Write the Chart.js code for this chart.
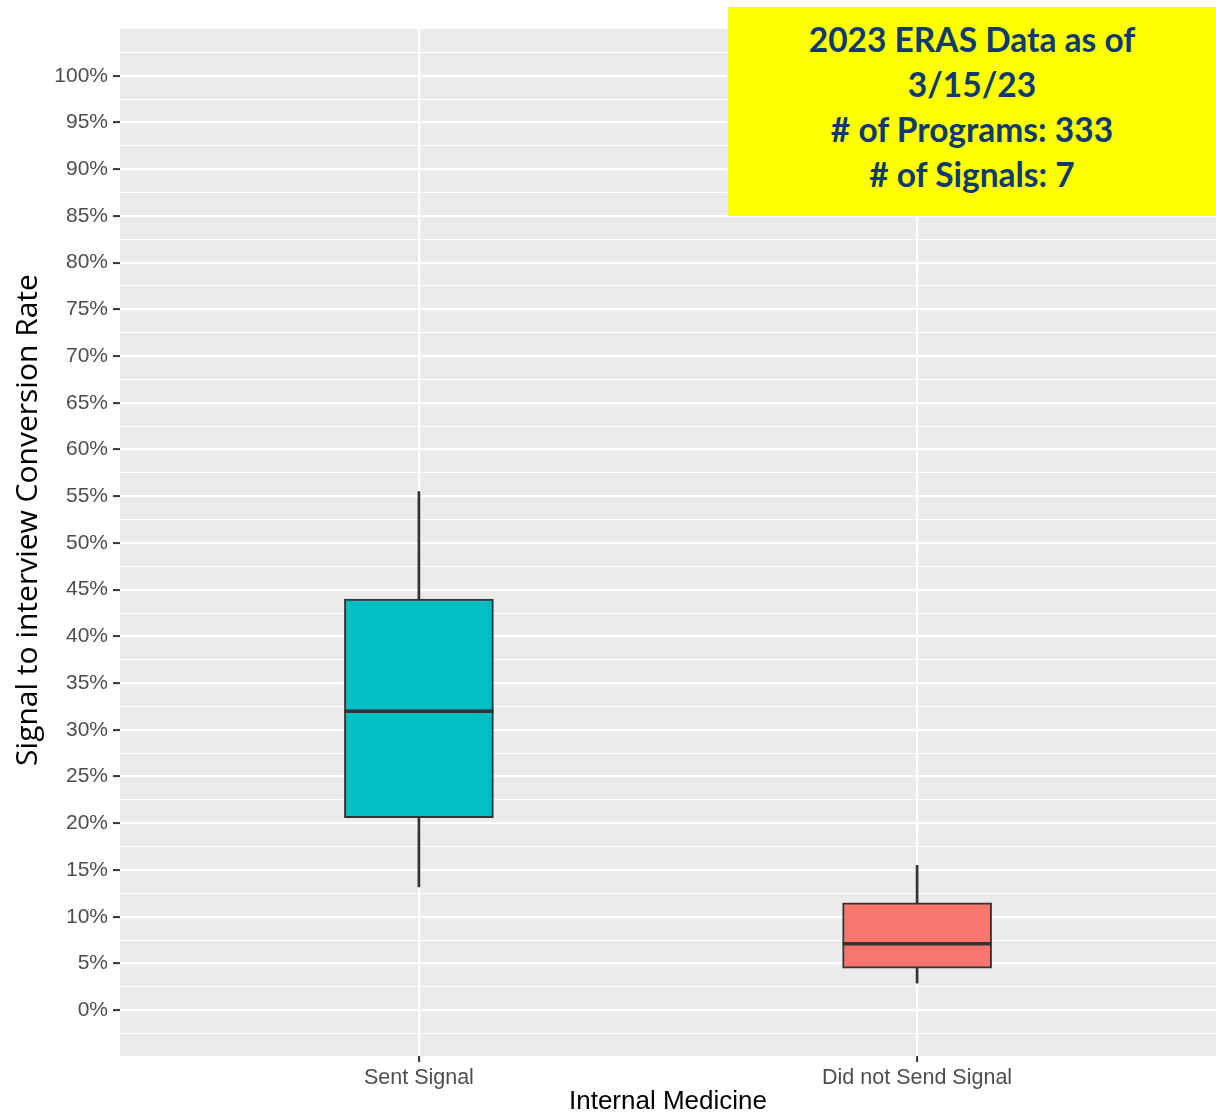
<!DOCTYPE html>
<html>
<head>
<meta charset="utf-8">
<script src="https://cdn.jsdelivr.net/npm/chart.js@4.4.0/dist/chart.umd.min.js"></script>
<style>
  html, body { margin: 0; padding: 0; background: #ffffff; }
  #wrap { position: relative; width: 1216px; height: 1117px; }
  #note {
    position: absolute; left: 728px; top: 7px; width: 488px; height: 209px;
    background: #ffff00; color: #0e3a73; text-align: center;
    font-family: Lato, "Open Sans", sans-serif; font-weight: bold; font-size: 33.5px;
    line-height: 45px; padding-top: 10px; box-sizing: border-box;
  }
</style>
</head>
<body>
<div id="wrap">
  <canvas id="boxChart" width="1216" height="1117"></canvas>
  <div id="note">2023 ERAS Data as of<br>3/15/23<br># of Programs: 333<br># of Signals: 7</div>
</div>
<script>
// Box plot summary values (percent)
const categories = ["Sent Signal", "Did not Send Signal"];
const whiskerLow = [13.2, 2.9];
const q1 = [20.6, 4.5];
const median = [32.0, 7.1];
const q3 = [44.0, 11.5];
const whiskerHigh = [55.5, 15.5];
const boxColors = ["#00BFC4", "#F8766D"];
const yTickValues = [0, 5, 10, 15, 20, 25, 30, 35, 40, 45, 50, 55, 60, 65, 70, 75, 80, 85, 90, 95, 100];
const yTitle = "Signal to interview Conversion Rate";

const isMajor = (v) => Math.abs(v % 5) < 1e-6;

// grey ggplot-style panel
const panelBackground = {
  id: "panelBackground",
  beforeDraw(chart) {
    const { ctx, chartArea } = chart;
    ctx.save();
    ctx.fillStyle = "#EBEBEB";
    ctx.fillRect(chartArea.left, chartArea.top, chartArea.right - chartArea.left, chartArea.bottom - chartArea.top);
    ctx.restore();
  },
};

// median line across each box
const medianLines = {
  id: "medianLines",
  afterDatasetsDraw(chart) {
    const { ctx } = chart;
    const yScale = chart.scales.y;
    const boxes = chart.getDatasetMeta(1).data;
    ctx.save();
    ctx.strokeStyle = "#333333";
    ctx.lineWidth = 3.5;
    boxes.forEach((bar, i) => {
      const y = yScale.getPixelForValue(median[i]);
      ctx.beginPath();
      ctx.moveTo(bar.x - bar.width / 2, y);
      ctx.lineTo(bar.x + bar.width / 2, y);
      ctx.stroke();
    });
    ctx.restore();
  },
};

// rotated y-axis title, sitting a bit above the panel centre like the original
const yAxisTitle = {
  id: "yAxisTitle",
  afterDraw(chart) {
    const { ctx } = chart;
    ctx.save();
    ctx.translate(28, 520);
    ctx.rotate(-Math.PI / 2);
    ctx.fillStyle = "#000000";
    ctx.font = "30px 'Open Sans', sans-serif";
    ctx.textAlign = "center";
    ctx.textBaseline = "middle";
    ctx.fillText(yTitle, 0, 0);
    ctx.restore();
  },
};

const ctx = document.getElementById("boxChart").getContext("2d");
const boxChart = new Chart(ctx, {
  type: "bar",
  data: {
    datasets: [
      {
        label: "whiskers",
        data: categories.map((c, i) => ({ x: i + 1, y: [whiskerLow[i], whiskerHigh[i]] })),
        backgroundColor: "#333333",
        barThickness: 2,
        grouped: false,
        order: 2,
      },
      {
        label: "boxes",
        data: categories.map((c, i) => ({ x: i + 1, y: [q1[i], q3[i]] })),
        backgroundColor: boxColors,
        borderColor: "#333333",
        borderWidth: 2,
        borderSkipped: false,
        barThickness: 149,
        grouped: false,
        order: 1,
      },
    ],
  },
  options: {
    responsive: false,
    animation: false,
    layout: { padding: { top: 29, right: 0, bottom: 0, left: 0 } },
    plugins: {
      legend: { display: false },
      tooltip: { enabled: false },
    },
    scales: {
      x: {
        type: "linear",
        min: 0.4,
        max: 2.6,
        offset: false,
        afterBuildTicks(scale) {
          scale.ticks = categories.map((c, i) => ({ value: i + 1 }));
        },
        afterFit(scale) {
          scale.height = 61;
        },
        border: { display: false },
        grid: {
          offset: false,
          color: "#FFFFFF",
          lineWidth: 2.2,
          drawTicks: true,
          tickLength: 6,
          tickColor: "#333333",
          tickWidth: 2,
        },
        ticks: {
          autoSkip: false,
          padding: 3,
          color: "#4D4D4D",
          font: { family: "'Liberation Sans', Arial, sans-serif", size: 21.5 },
          maxRotation: 0,
          callback: (v) => categories[Math.round(v) - 1] || "",
        },
        title: {
          display: true,
          text: "Internal Medicine",
          color: "#000000",
          font: { family: "'Liberation Sans', Arial, sans-serif", size: 26 },
          padding: { top: 0, bottom: 0 },
        },
      },
      y: {
        type: "linear",
        min: -4.9,
        max: 105,
        afterBuildTicks(scale) {
          const ticks = [];
          yTickValues.forEach((v) => ticks.push({ value: v }));
          yTickValues.forEach((v) => ticks.push({ value: v + 2.5 }));
          ticks.push({ value: -2.5 });
          ticks.sort((a, b) => a.value - b.value);
          scale.ticks = ticks;
        },
        afterFit(scale) {
          scale.width = 120;
        },
        border: { display: false },
        grid: {
          color: "#FFFFFF",
          lineWidth: (c) => (c.tick && isMajor(c.tick.value) ? 2.2 : 1.1),
          drawTicks: true,
          tickLength: 7,
          tickColor: (c) => (c.tick && isMajor(c.tick.value) ? "#333333" : "rgba(0,0,0,0)"),
          tickWidth: 2,
        },
        ticks: {
          autoSkip: false,
          padding: 5,
          color: "#4D4D4D",
          font: { family: "'Liberation Sans', Arial, sans-serif", size: 21 },
          callback: (v) => (isMajor(v) ? v + "%" : ""),
        },
        title: { display: false },
      },
    },
  },
  plugins: [panelBackground, medianLines, yAxisTitle],
});
</script>
</body>
</html>
